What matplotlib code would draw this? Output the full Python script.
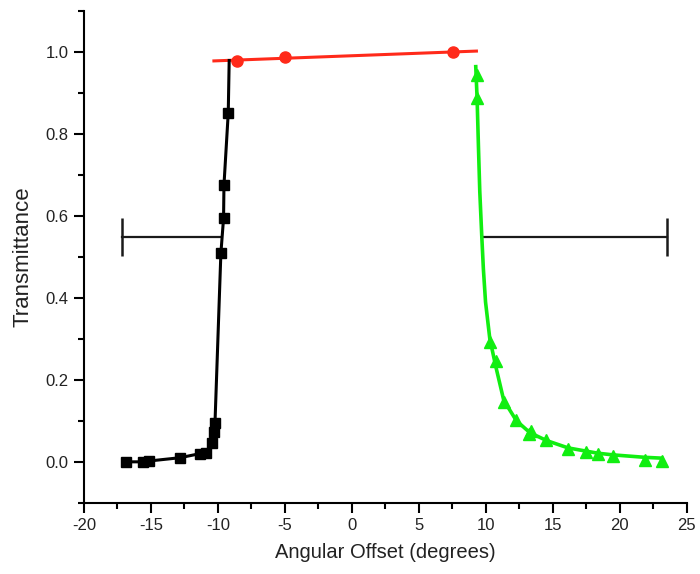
import matplotlib
matplotlib.use("Agg")
import matplotlib.pyplot as plt
from matplotlib.ticker import MultipleLocator

# black branch (squares)
black_x = [-16.87, -15.60, -15.15, -12.84, -11.34, -10.90, -10.45, -10.30, -10.22,
           -9.78, -9.58, -9.55, -9.23]
black_y = [0.0, 0.0, 0.002, 0.010, 0.020, 0.022, 0.046, 0.073, 0.095,
           0.509, 0.594, 0.675, 0.851]
black_end_x = [-9.16]
black_end_y = [0.979]

# red branch (circles) and its straight line
red_x = [-8.6, -5.0, 7.56]
red_y = [0.979, 0.988, 1.0]
red_line_x = [-10.3, 9.3]
red_line_y = [0.978, 1.002]

# green branch (triangles)
green_x = [9.31, 9.35, 10.30, 10.75, 11.34, 12.29, 13.20, 13.41, 14.53, 16.14,
           17.51, 18.38, 19.48, 21.87, 23.13]
green_y = [0.944, 0.887, 0.292, 0.247, 0.145, 0.102, 0.068, 0.076, 0.054, 0.031,
           0.024, 0.019, 0.015, 0.004, 0.002]
# green curve
green_curve_x = [9.25, 9.35, 9.45, 9.55, 9.70, 9.82, 9.98, 10.30, 10.75, 11.34, 12.29,
                 13.30, 14.53, 16.14, 17.51, 18.38, 19.48, 21.87, 23.13]
green_curve_y = [0.964, 0.887, 0.77, 0.66, 0.55, 0.47, 0.39, 0.300, 0.232, 0.150, 0.100,
                 0.071, 0.052, 0.034, 0.026, 0.021, 0.017, 0.011, 0.009]

# horizontal range bars at y = 0.55
bar_y = 0.548
left_bar = (-17.16, -9.78)
right_bar = (9.70, 23.5)

plt.rcParams['font.family'] = ['Liberation Sans', 'DejaVu Sans']
plt.rcParams['axes.unicode_minus'] = False

fig = plt.figure(figsize=(7.0, 5.74), dpi=100)
ax = fig.add_axes([0.12, 0.124, 0.861, 0.857])

text_col = "#222222"

for x0, x1, cap in [(left_bar[0], left_bar[1], left_bar[0]),
                    (right_bar[0], right_bar[1], right_bar[1])]:
    ax.plot([x0, x1], [bar_y, bar_y], color="#1a1a1a", lw=1.6, zorder=2)
    ax.plot([cap], [bar_y], marker="|", markersize=28, markeredgewidth=1.8,
            color="#1a1a1a", zorder=2)

ax.plot(red_line_x, red_line_y, color="#ff2a1a", lw=2.2, zorder=3)
ax.plot(red_x, red_y, "o", color="#ff2a1a", markersize=8, zorder=4)

ax.plot(black_x + black_end_x, black_y + black_end_y, color="black", lw=2.2, zorder=3)
ax.plot(black_x, black_y, "s", color="black", markersize=6.5, zorder=4)

ax.plot(green_curve_x, green_curve_y, color="#11ee11", lw=2.6, zorder=3)
ax.plot(green_x, green_y, "^", color="#11ee11", markersize=8, zorder=4)

ax.set_xlim(-20, 25)
ax.set_ylim(-0.1, 1.1)
ax.xaxis.set_major_locator(MultipleLocator(5))
ax.xaxis.set_minor_locator(MultipleLocator(2.5))
ax.yaxis.set_major_locator(MultipleLocator(0.2))
ax.yaxis.set_minor_locator(MultipleLocator(0.1))
ax.set_yticks([0.0, 0.2, 0.4, 0.6, 0.8, 1.0])
ax.set_yticklabels(["0.0", "0.2", "0.4", "0.6", "0.8", "1.0"])

for s in ["top", "right"]:
    ax.spines[s].set_visible(False)
for s in ["left", "bottom"]:
    ax.spines[s].set_linewidth(1.5)

ax.tick_params(which="major", direction="out", length=7, width=1.5,
               labelsize=12, labelcolor=text_col, pad=4)
ax.tick_params(which="minor", direction="out", length=4.5, width=1.5)

ax.set_xlabel("Angular Offset (degrees)", fontsize=14.5, color=text_col, labelpad=7)
ax.set_ylabel("Transmittance", fontsize=16, color=text_col, labelpad=9)

fig.savefig("out.png", dpi=100)
